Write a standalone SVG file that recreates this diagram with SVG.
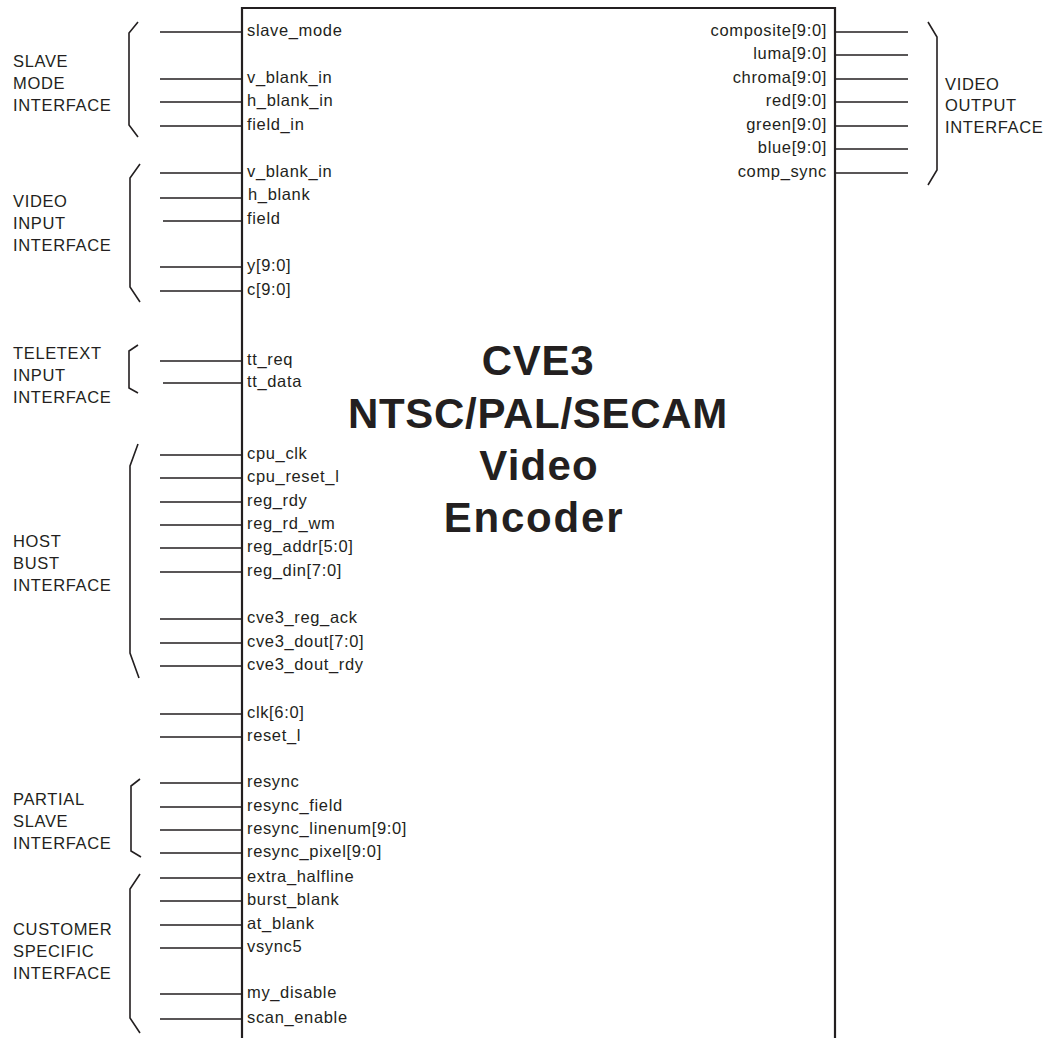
<svg xmlns="http://www.w3.org/2000/svg" width="1045" height="1038" viewBox="0 0 1045 1038">
<style>
text{font-family:"Liberation Sans",Arial,sans-serif;fill:#231f20}
.sig{font-size:16.5px;letter-spacing:0.65px}
.r{text-anchor:end}
.grp{font-size:16.5px;letter-spacing:0.65px}
.title{font-size:42px;font-weight:bold;text-anchor:middle;letter-spacing:0.7px}
.stub{stroke:#231f20;stroke-width:1.6;fill:none}
.br{stroke:#231f20;stroke-width:1.6;fill:none;stroke-linejoin:miter}
.box{stroke:#231f20;stroke-width:2.2;fill:none}
</style>
<rect width="1045" height="1038" fill="#ffffff"/>
<g id="encoder">
<path class="box" d="M242,1040 L242,8 L835,8 L835,1040"/>
<text class="title" x="538" y="375">CVE3</text>
<text class="title" x="538" y="428">NTSC/PAL/SECAM</text>
<text class="title" x="539" y="480" style="letter-spacing:1.2px">Video</text>
<text class="title" x="534" y="532" style="letter-spacing:1.8px">Encoder</text>
</g>
<g id="connectors">
<path class="stub" d="M160,32H242 M160,79H242 M160,102H242 M160,126H242 M160,173H242 M160,198H242 M163,221H242 M160,267H242 M160,291H242 M160,361H242 M163,383H242 M160,455H242 M160,478H242 M160,502H242 M160,525H242 M160,548H242 M160,572H242 M160,619H242 M160,643H242 M160,666H242 M160,714H242 M160,737H242 M160,783H242 M160,807H242 M160,830H242 M160,853H242 M160,878H242 M160,901H242 M160,925H242 M160,948H242 M160,994H242 M160,1019H242"/>
<path class="stub" d="M835,32H908 M835,55H908 M835,79H908 M835,102H908 M835,126H908 M835,149H908 M835,173H908"/>
</g>
<g id="left-labels">
<text class="sig" x="247" y="36">slave_mode</text>
<text class="sig" x="247" y="83">v_blank_in</text>
<text class="sig" x="247" y="106">h_blank_in</text>
<text class="sig" x="247" y="130">field_in</text>
<text class="sig" x="247" y="177">v_blank_in</text>
<text class="sig" x="248" y="200">h_blank</text>
<text class="sig" x="247" y="224">field</text>
<text class="sig" x="247" y="271">y[9:0]</text>
<text class="sig" x="247" y="295">c[9:0]</text>
<text class="sig" x="247" y="365">tt_req</text>
<text class="sig" x="247" y="387">tt_data</text>
<text class="sig" x="247" y="459">cpu_clk</text>
<text class="sig" x="247" y="482">cpu_reset_l</text>
<text class="sig" x="247" y="506">reg_rdy</text>
<text class="sig" x="247" y="529">reg_rd_wm</text>
<text class="sig" x="247" y="552">reg_addr[5:0]</text>
<text class="sig" x="247" y="576">reg_din[7:0]</text>
<text class="sig" x="247" y="623">cve3_reg_ack</text>
<text class="sig" x="247" y="647">cve3_dout[7:0]</text>
<text class="sig" x="247" y="670">cve3_dout_rdy</text>
<text class="sig" x="247" y="718">clk[6:0]</text>
<text class="sig" x="247" y="741">reset_l</text>
<text class="sig" x="247" y="787">resync</text>
<text class="sig" x="247" y="811">resync_field</text>
<text class="sig" x="247" y="834">resync_linenum[9:0]</text>
<text class="sig" x="247" y="857">resync_pixel[9:0]</text>
<text class="sig" x="247" y="882">extra_halfline</text>
<text class="sig" x="247" y="905">burst_blank</text>
<text class="sig" x="247" y="929">at_blank</text>
<text class="sig" x="247" y="952">vsync5</text>
<text class="sig" x="247" y="998">my_disable</text>
<text class="sig" x="247" y="1023">scan_enable</text>
</g>
<g id="right-labels">
<text class="sig r" x="827" y="36">composite[9:0]</text>
<text class="sig r" x="827" y="59">luma[9:0]</text>
<text class="sig r" x="827" y="83">chroma[9:0]</text>
<text class="sig r" x="827" y="106">red[9:0]</text>
<text class="sig r" x="827" y="130">green[9:0]</text>
<text class="sig r" x="827" y="153">blue[9:0]</text>
<text class="sig r" x="827" y="177">comp_sync</text>
</g>
<g id="slave-mode-interface">
<path class="br" d="M138,22 L129,33 L129,125 L138,137"/>
<text class="grp" x="13" y="67">SLAVE</text>
<text class="grp" x="13" y="89">MODE</text>
<text class="grp" x="13" y="111">INTERFACE</text>
</g>
<g id="video-input-interface">
<path class="br" d="M140,164 L130,178 L130,287 L140,302"/>
<text class="grp" x="13" y="207">VIDEO</text>
<text class="grp" x="13" y="229">INPUT</text>
<text class="grp" x="13" y="251">INTERFACE</text>
</g>
<g id="teletext-input-interface">
<path class="br" d="M138,345 L129,351 L129,388 L138,393"/>
<text class="grp" x="13" y="359">TELETEXT</text>
<text class="grp" x="13" y="381">INPUT</text>
<text class="grp" x="13" y="403">INTERFACE</text>
</g>
<g id="host-bust-interface">
<path class="br" d="M138,444 L130,466 L130,653 L139,678"/>
<text class="grp" x="13" y="547">HOST</text>
<text class="grp" x="13" y="569">BUST</text>
<text class="grp" x="13" y="591">INTERFACE</text>
</g>
<g id="partial-slave-interface">
<path class="br" d="M140,779 L131,786 L131,851 L141,857"/>
<text class="grp" x="13" y="805">PARTIAL</text>
<text class="grp" x="13" y="827">SLAVE</text>
<text class="grp" x="13" y="849">INTERFACE</text>
</g>
<g id="customer-specific-interface">
<path class="br" d="M140,874 L130,889 L130,1018 L140,1033"/>
<text class="grp" x="13" y="935">CUSTOMER</text>
<text class="grp" x="13" y="957">SPECIFIC</text>
<text class="grp" x="13" y="979">INTERFACE</text>
</g>
<g id="video-output-interface">
<path class="br" d="M928,22 L937,37 L937,170 L928,185"/>
<text class="grp" x="945" y="90">VIDEO</text>
<text class="grp" x="945" y="111">OUTPUT</text>
<text class="grp" x="945" y="133">INTERFACE</text>
</g>
</svg>
